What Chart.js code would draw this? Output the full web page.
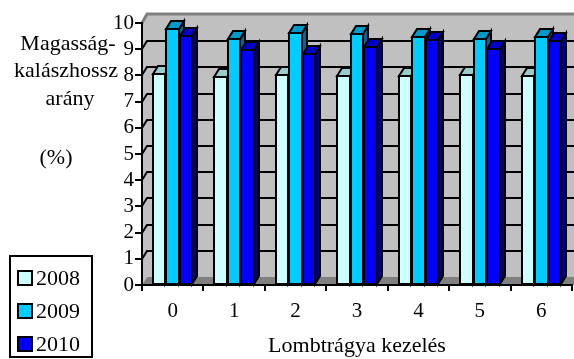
<!DOCTYPE html>
<html>
<head>
<meta charset="utf-8">
<script src="https://cdn.jsdelivr.net/npm/chart.js@4/dist/chart.umd.min.js"></script>
<style>
  html, body { margin:0; padding:0; background:#fff; }
  #wrap { width:574px; height:359px; position:relative; }
</style>
</head>
<body>
<div id="wrap"><canvas id="c" width="574" height="359"></canvas></div>
<script>
// Data
const categories = ["0", "1", "2", "3", "4", "5", "6"];
const years      = ["2008", "2009", "2010"];
const s2008 = [8.05, 7.95, 8.0, 7.97, 7.97, 8.0, 7.97];
const s2009 = [9.77, 9.38, 9.62, 9.58, 9.47, 9.38, 9.45];
const s2010 = [9.5, 8.97, 8.82, 9.08, 9.35, 9.0, 9.3];
const yTitleLines = ["Magasság-", "kalászhossz", "arány", "", "(%)"];
const xTitle = "Lombtrágya kezelés";

// colours: front, top, side
const faces = [
    { front:"#CCFFFF", top:"#99CCCC", side:"#669999" },
    { front:"#00CCFF", top:"#0099CC", side:"#006699" },
    { front:"#0000FF", top:"#0000CC", side:"#000080" }
];
const FONT = '"Liberation Serif", "Times New Roman", serif';
const DX = 5, DY = -8;   // 3d depth

const wallPlugin = {
    id:"wall",
    beforeDraw(chart){
        const {ctx, chartArea:a, scales:{y}} = chart;
        const W = chart.width;
        ctx.save();
        // back wall + left wall
        ctx.fillStyle = "#C0C0C0";
        ctx.beginPath();
        ctx.moveTo(a.left, a.bottom);
        ctx.lineTo(a.left, a.top);
        ctx.lineTo(a.left+DX, a.top+DY);
        ctx.lineTo(W, a.top+DY);
        ctx.lineTo(W, a.bottom+DY);
        ctx.lineTo(a.left+DX, a.bottom+DY);
        ctx.closePath();
        ctx.fill();
        // floor
        ctx.fillStyle = "#808080";
        ctx.beginPath();
        ctx.moveTo(a.left, a.bottom);
        ctx.lineTo(a.left+DX, a.bottom+DY);
        ctx.lineTo(W, a.bottom+DY);
        ctx.lineTo(W, a.bottom);
        ctx.closePath();
        ctx.fill();
        // top edge of wall
        ctx.strokeStyle = "#808080";
        ctx.lineWidth = 3;
        ctx.beginPath();
        ctx.moveTo(a.left, a.top);
        ctx.lineTo(a.left+DX, a.top+DY-1);
        ctx.lineTo(W, a.top+DY-1);
        ctx.stroke();
        // gridlines on back wall
        ctx.strokeStyle = "#000";
        ctx.lineWidth = 2;
        for (let v = 1; v <= 9; v++){
            const py = Math.round(y.getPixelForValue(v));
            ctx.beginPath();
            ctx.moveTo(a.left, py);
            ctx.lineTo(a.left+DX, py+DY);
            ctx.lineTo(W, py+DY);
            ctx.stroke();
        }
        ctx.restore();
    },
    afterDatasetsDraw(chart){
        const ctx = chart.ctx;
        const metas = chart.data.datasets.map((_, d) => chart.getDatasetMeta(d));
        ctx.save();
        ctx.strokeStyle = "#000";
        ctx.lineWidth = 2;
        categories.forEach((_, i) => {
            metas.forEach((meta, d) => {
                const el = meta.data[i];
                const {x, y, base, width} = el.getProps(["x","y","base","width"], true);
                const l = Math.round(x - width/2), r = Math.round(x + width/2);
                const t = Math.round(y), b = Math.round(base);
                const f = faces[d];
                // side
                ctx.fillStyle = f.side;
                ctx.beginPath();
                ctx.moveTo(r, t); ctx.lineTo(r+DX, t+DY); ctx.lineTo(r+DX, b+DY); ctx.lineTo(r, b);
                ctx.closePath(); ctx.fill(); ctx.stroke();
                // top
                ctx.fillStyle = f.top;
                ctx.beginPath();
                ctx.moveTo(l, t); ctx.lineTo(l+DX, t+DY); ctx.lineTo(r+DX, t+DY); ctx.lineTo(r, t);
                ctx.closePath(); ctx.fill(); ctx.stroke();
                // front
                ctx.fillStyle = f.front;
                ctx.fillRect(l, t, r-l, b-t);
                ctx.strokeRect(l, t, r-l, b-t);
            });
        });
        ctx.restore();
    },
    afterDraw(chart){
        const ctx = chart.ctx;
        ctx.save();
        ctx.fillStyle = "#000";
        ctx.textBaseline = "middle";
        ctx.textAlign = "center";
        ctx.font = "22px " + FONT;
        const ys = [44, 71, 99, 126, 158];
        const xs = [68, 66, 70, 70, 56];
        yTitleLines.forEach((s, k) => { if (s) ctx.fillText(s, xs[k], ys[k]); });

        // legend
        ctx.strokeStyle = "#000";
        ctx.lineWidth = 2;
        ctx.strokeRect(10, 256, 82, 101);
        ctx.textAlign = "left";
        ctx.font = "22px " + FONT;
        years.forEach((yr, k) => {
            const cy = 278 + k*33;
            ctx.fillStyle = faces[k].front;
            ctx.fillRect(18, cy-7, 14, 14);
            ctx.strokeRect(18, cy-7, 14, 14);
            ctx.fillStyle = "#000";
            ctx.fillText(yr, 36, cy+1);
        });
        ctx.restore();
    }
};

new Chart(document.getElementById("c"), {
    type:"bar",
    data:{
        labels: categories,
        datasets:[
            { label:years[0], data:s2008, backgroundColor:faces[0].front },
            { label:years[1], data:s2009, backgroundColor:faces[1].front },
            { label:years[2], data:s2010, backgroundColor:faces[2].front }
        ]
    },
    options:{
        responsive:false, devicePixelRatio:1, animation:false,
        layout:{ padding:{ top:23, right:2, left:0, bottom:0 } },
        datasets:{ bar:{ categoryPercentage:0.66, barPercentage:0.92, borderWidth:0 } },
        plugins:{ legend:{ display:false }, tooltip:{ enabled:false } },
        scales:{
            x:{
                grid:{ drawOnChartArea:false, color:"#000", lineWidth:2, tickLength:6 },
                border:{ display:true, color:"#000", width:2 },
                ticks:{ color:"#000", font:{ family:FONT, size:21 }, padding:8, autoSkip:false },
                title:{ display:true, text:xTitle, color:"#000", font:{ family:FONT, size:22 }, padding:{ top:0, bottom:0 } },
                afterFit(s){ s.height = 74; }
            },
            y:{
                min:0, max:10,
                grid:{ drawOnChartArea:false, color:"#000", lineWidth:2, tickLength:7 },
                border:{ display:true, color:"#000", width:2 },
                ticks:{ stepSize:1, color:"#000", font:{ family:FONT, size:21 }, padding:1, autoSkip:false },
                afterFit(s){ s.width = 142; }
            }
        }
    },
    plugins:[wallPlugin]
});
</script>
</body>
</html>
